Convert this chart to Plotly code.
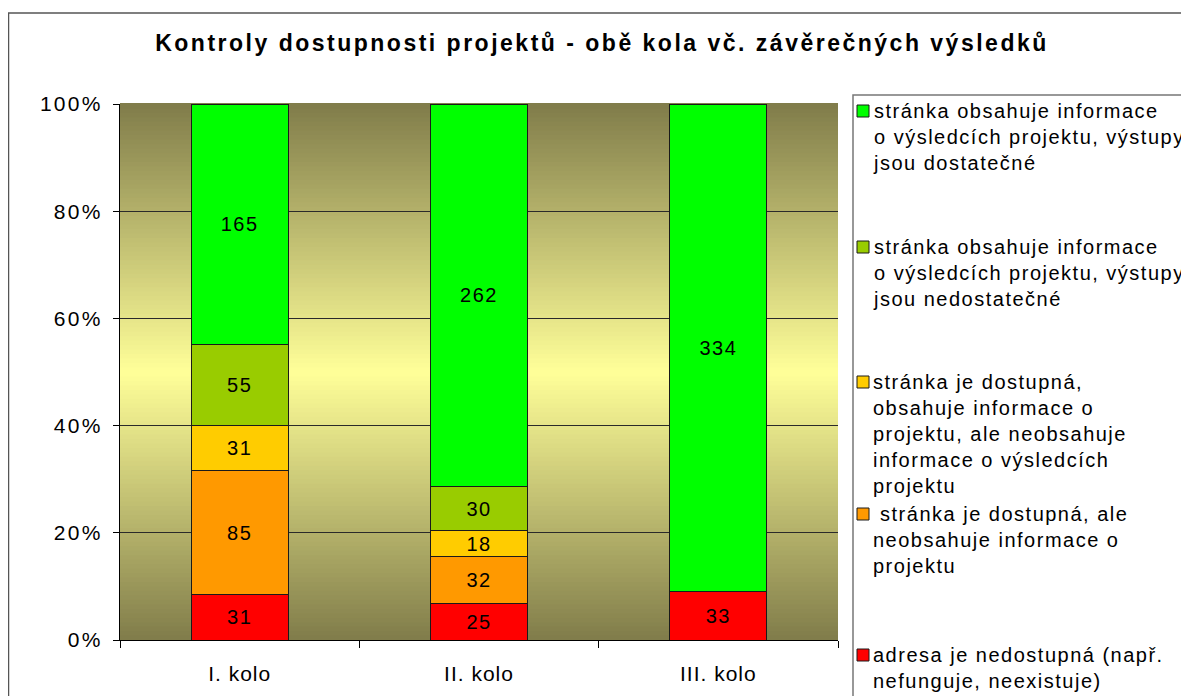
import plotly.graph_objects as go

# ---- data ----
categories = ["I. kolo", "II. kolo", "III. kolo"]
series_names = [
    "adresa je nedostupná (např.<br>nefunguje, neexistuje)",
    " stránka je dostupná, ale<br>neobsahuje informace o<br>projektu",
    "stránka je dostupná,<br>obsahuje informace o<br>projektu, ale neobsahuje<br>informace o výsledcích<br>projektu",
    "stránka obsahuje informace<br>o výsledcích projektu, výstupy<br>jsou nedostatečné",
    "stránka obsahuje informace<br>o výsledcích projektu, výstupy<br>jsou dostatečné",
]
red_vals = [31, 25, 33]
orange_vals = [85, 32, 0]
yellow_vals = [31, 18, 0]
olive_vals = [55, 30, 0]
green_vals = [165, 262, 334]
series_values = [red_vals, orange_vals, yellow_vals, olive_vals, green_vals]
series_colors = ["#FF0000", "#FF9900", "#FFCC00", "#99CC00", "#00FF00"]
y_ticks = [0, 20, 40, 60, 80, 100]
y_tick_text = ["0%", "20%", "40%", "60%", "80%", "100%"]
title_text = "Kontroly dostupnosti projektů - obě kola vč. závěrečných výsledků"

# page body has an 8px margin: figure drawn from (8, 8)
OFF = 8
W, H = 1189 - OFF, 696 - OFF
FONT = "Liberation Sans, Arial, sans-serif"


def px_x(px):
    return (px - OFF) / W


def px_y(py):
    return 1 - (py - OFF) / H


def spaced(s, sp):
    return '<span style="letter-spacing:%.1fpx">%s</span>' % (sp, s)


def spaced_lines(s, sp):
    return "<br>".join(spaced(part, sp) for part in s.split("<br>"))


fig = go.Figure()
for name, vals, col in zip(series_names, series_values, series_colors):
    fig.add_trace(go.Bar(
        x=categories,
        y=[v if v else None for v in vals],
        text=[spaced(str(v), 1.5) if v else "" for v in vals],
        texttemplate="%{text}",
        textposition="inside",
        insidetextanchor="middle",
        textangle=0,
        constraintext="none",
        textfont=dict(family=FONT, size=20, color="black"),
        marker=dict(color=col, line=dict(color="#1a1a1a", width=1)),
        name=name,
        showlegend=False,
    ))

# gradient background of plot area
shapes = []
N = 120
edge = (128, 124, 74)
mid = (255, 255, 153)
for i in range(N):
    y0 = i / N
    y1 = (i + 1) / N
    yc = (y0 + y1) / 2
    t = abs(yc - 0.5) / 0.5  # 0 at middle, 1 at edges
    c = tuple(int(round(mid[k] + (edge[k] - mid[k]) * t)) for k in range(3))
    shapes.append(dict(type="rect", xref="x domain", yref="y domain",
                       x0=0, x1=1, y0=y0, y1=y1 + 0.002, layer="below",
                       line=dict(width=0), fillcolor="rgb(%d,%d,%d)" % c))

# outer chart border
shapes.append(dict(type="rect", xref="paper", yref="paper",
                   x0=px_x(8.5), x1=1.02, y0=-0.02, y1=px_y(13),
                   line=dict(color="#555555", width=1.5), fillcolor="rgba(0,0,0,0)"))
# legend box
shapes.append(dict(type="rect", xref="paper", yref="paper",
                   x0=px_x(853), x1=1.02, y0=-0.02, y1=px_y(95),
                   line=dict(color="#777777", width=1.5), fillcolor="rgba(0,0,0,0)"))

# manual legend (top to bottom: green, olive, yellow, orange, red)
legend_rows = [111, 247, 382, 514, 655]
annotations = []
order = [4, 3, 2, 1, 0]
for row_y, idx in zip(legend_rows, order):
    shapes.append(dict(type="rect", xref="paper", yref="paper",
                       x0=px_x(857), x1=px_x(869), y0=px_y(row_y + 6), y1=px_y(row_y - 6),
                       fillcolor=series_colors[idx], line=dict(color="#1a1a1a", width=1)))
    annotations.append(dict(xref="paper", yref="paper", x=px_x(871), y=px_y(row_y - 13),
                            xanchor="left", yanchor="top", align="left", showarrow=False,
                            text=spaced_lines(series_names[idx], 1.5),
                            font=dict(family=FONT, size=20, color="black")))

fig.update_layout(
    width=W, height=H, autosize=False,
    margin=dict(l=0, r=0, t=0, b=0),
    paper_bgcolor="white",
    plot_bgcolor="rgba(0,0,0,0)",
    barmode="stack",
    barnorm="percent",
    bargap=0.595,
    title=dict(text="<b>" + spaced(title_text, 2.5) + "</b>", x=px_x(602), xanchor="center",
               y=px_y(43), yanchor="middle",
               font=dict(family=FONT, size=23, color="black")),
    shapes=shapes,
    annotations=annotations,
    xaxis=dict(domain=[px_x(120), px_x(838)], automargin=False,
               tickvals=categories, ticktext=[spaced(c, 1.0) for c in categories],
               showline=True, linecolor="black", linewidth=1,
               ticks="outside", tickson="boundaries", ticklen=7, tickcolor="black",
               ticklabelstandoff=15,
               tickfont=dict(family=FONT, size=21, color="black"),
               showgrid=False),
    yaxis=dict(domain=[px_y(640), px_y(104)], automargin=False, range=[0, 100],
               tickvals=y_ticks, ticktext=[spaced(t, 2.3) for t in y_tick_text],
               showline=True, linecolor="black", linewidth=1,
               ticks="outside", ticklen=6, tickcolor="black",
               ticklabelstandoff=6,
               tickfont=dict(family=FONT, size=21, color="black"),
               showgrid=True, gridcolor="#2a2a2a", gridwidth=1,
               zeroline=False),
)

fig.write_html("out.html")
